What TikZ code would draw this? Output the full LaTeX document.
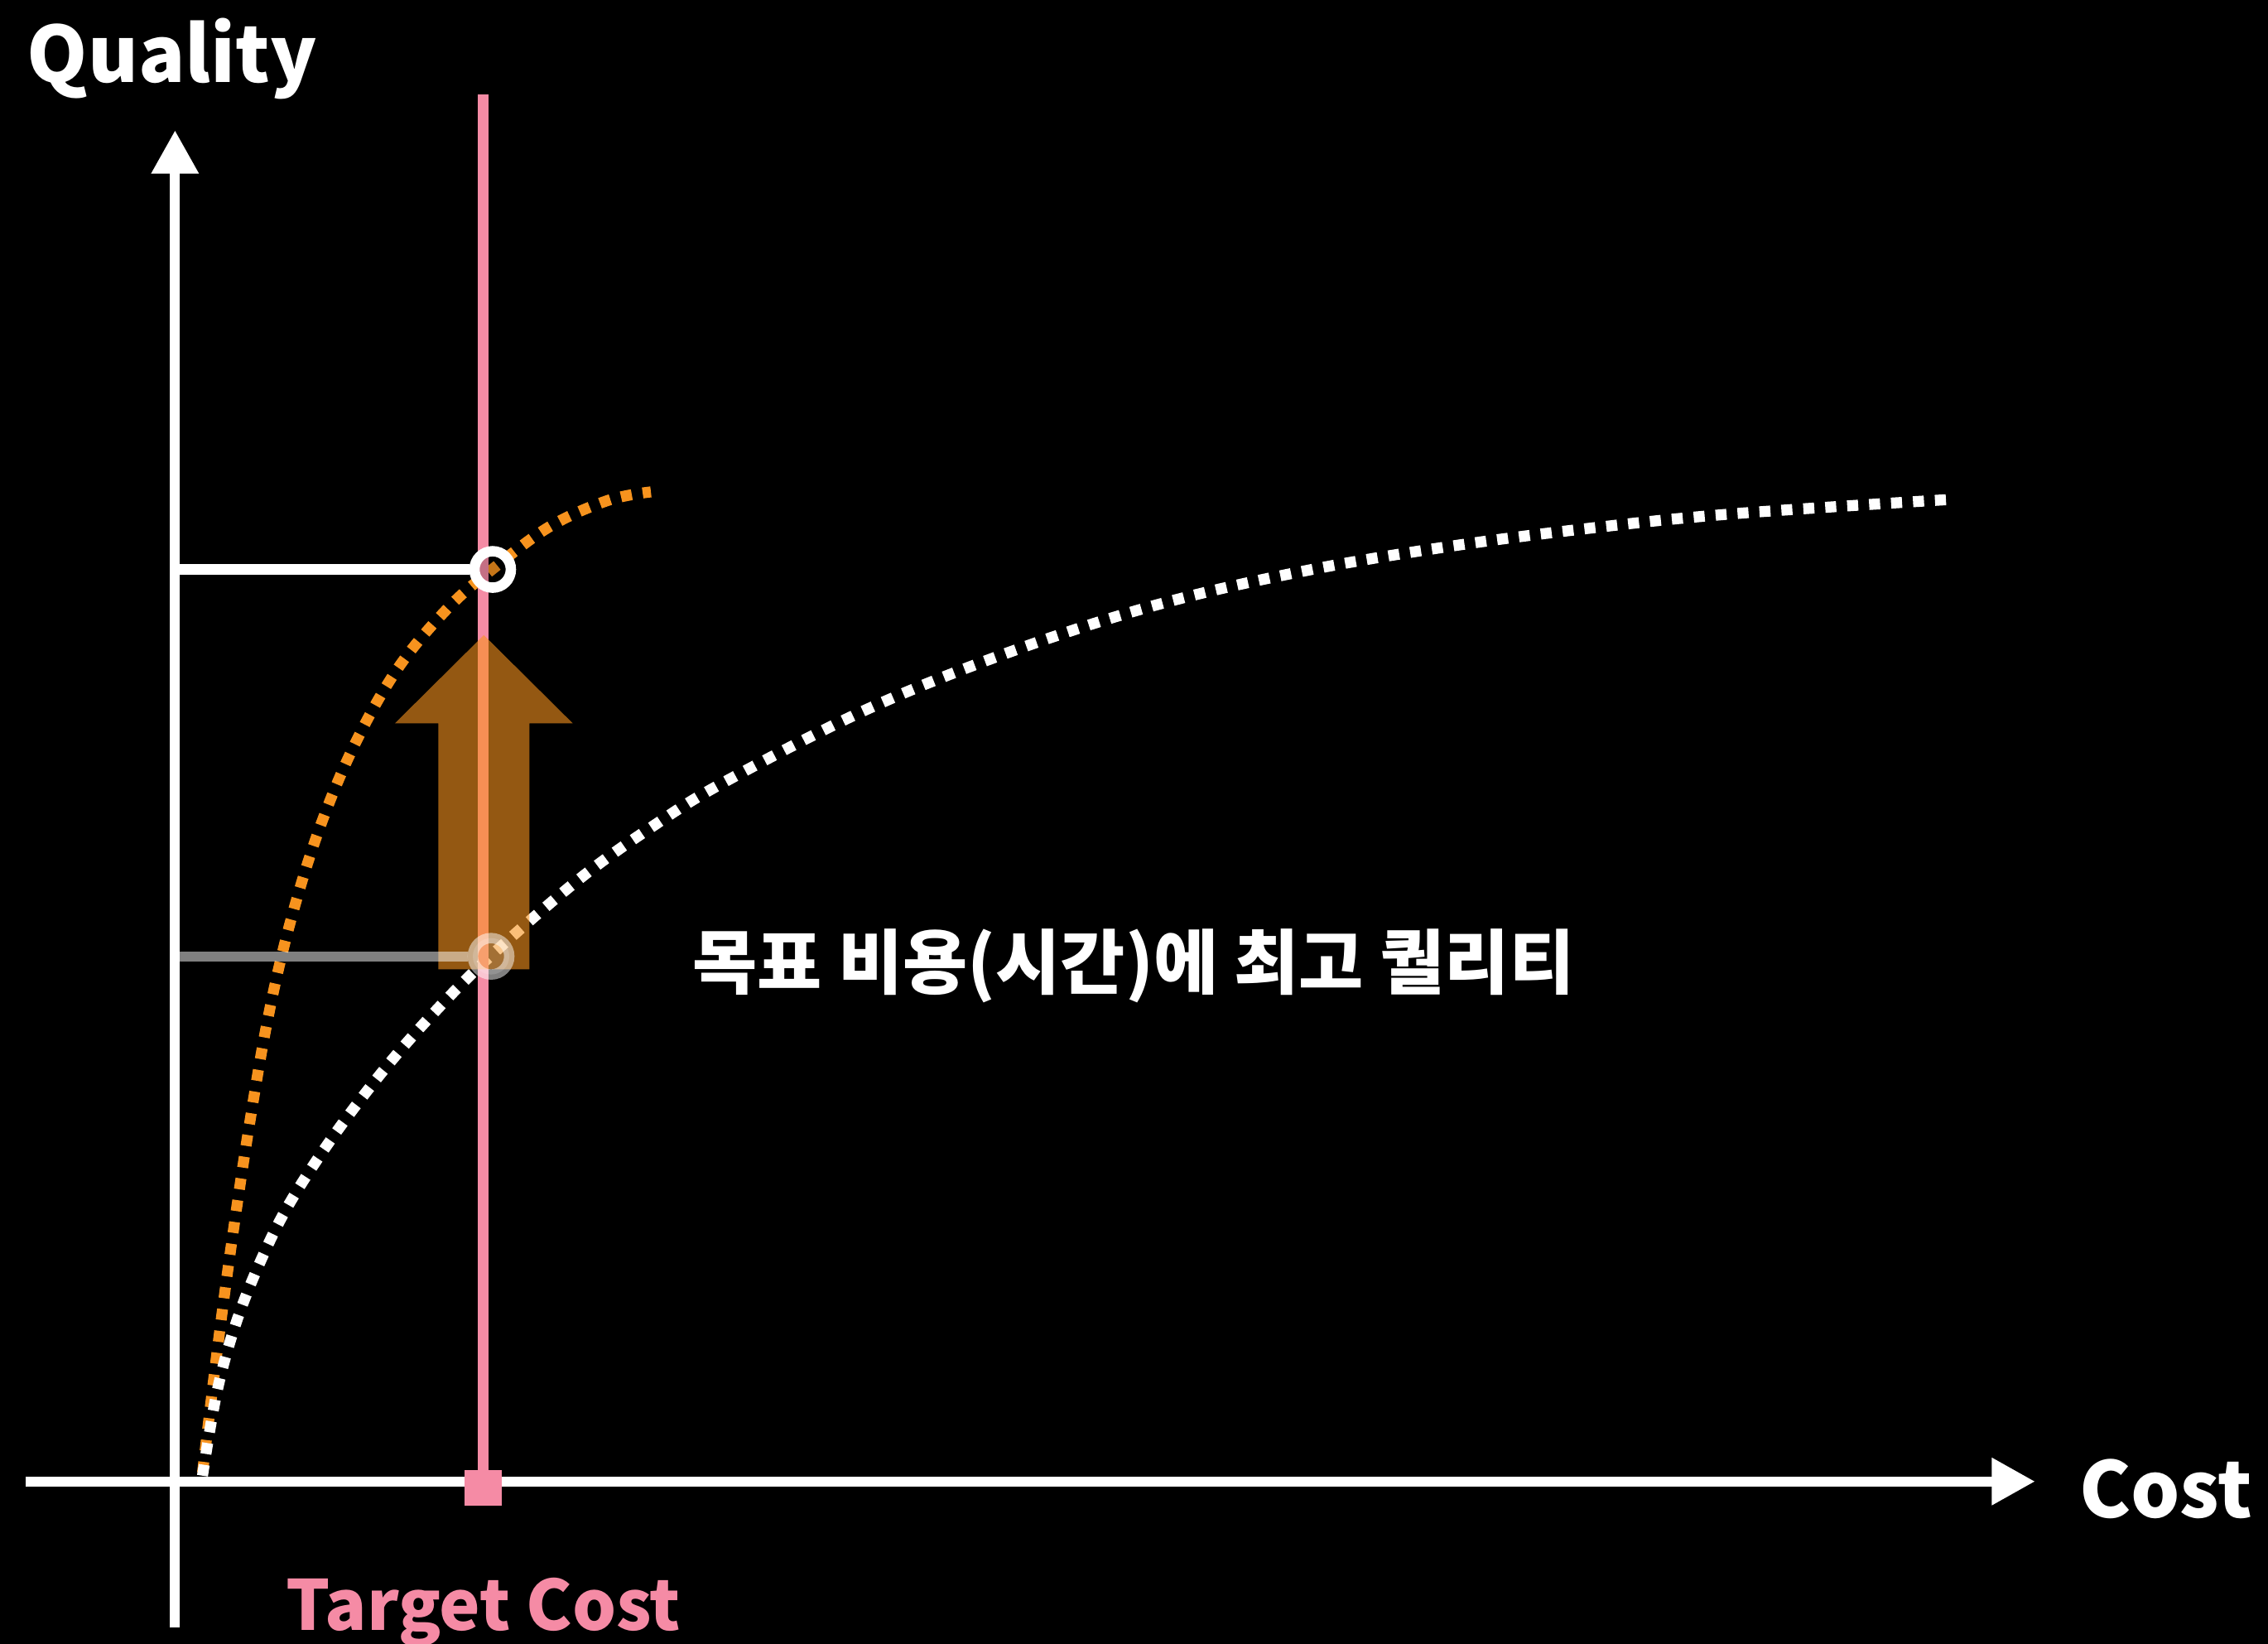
\documentclass[tikz,border=0pt]{standalone}
\usepackage{fontspec}
\setmainfont{Noto Sans CJK KR}
\usepackage{tikz}
\usetikzlibrary{arrows.meta,positioning,calc}
\definecolor{bgblack}{HTML}{000000}
\definecolor{tcpink}{HTML}{F58BA5}
\definecolor{qorange}{HTML}{F7931E}
\tikzset{
  axisline/.style={draw=white, line width=0.7mm, -{Triangle[length=3mm,width=3.1mm]}},
  dotcurve/.style={line width=0.76mm, dash pattern=on 0.76mm off 0.76mm},
  level/.style={line width=0.7mm},
  ring/.style={circle, draw=white, line width=0.72mm, minimum size=2.52mm,
               inner sep=0pt, fill=black, fill opacity=0.2, draw opacity=1},
  bigtxt/.style={font=\fontsize{15.2pt}{18pt}\selectfont\bfseries, text=white,
                 inner sep=0pt, anchor=base west},
}

\begin{document}
\begin{tikzpicture}[x=0.1mm, y=-0.1mm]
  % background, one px = one unit of the 1568 x 1136 frame
  \useasboundingbox (0,0) rectangle (1568,1136);
  \fill[bgblack] (-5,-5) rectangle (1573,1141);

  % axes
  \coordinate (ybot) at (121,1125);
  \coordinate (ytop) at (121,90);
  \coordinate (xleft) at (18,1024);
  \coordinate (xright) at (1407,1024);
  \draw[axisline] (ybot) -- (ytop);
  \draw[axisline] (xleft) -- (xright);

  % quality curves
  \draw[dotcurve, draw=qorange] plot[smooth, tension=0.6] coordinates {
    (140,1018) (150,935) (160,860) (172,780) (185,705) (200,640) (220,575)
    (245,515) (275,462) (310,420) (341,393) (380,364) (420,346) (450,340)};
  \draw[dotcurve, draw=white] plot[smooth, tension=0.6] coordinates {
    (140,1020) (150,962) (163,915) (180,872) (200,832) (230,786) (265,740)
    (300,700) (340,660) (400,608) (450,572) (500,541) (600,490) (700,450)
    (800,418) (900,395) (1000,378) (1100,365) (1200,355) (1352,345)};

  % target cost
  \coordinate (tctop) at (334,65);
  \node[fill=tcpink, minimum width=2.6mm, minimum height=2.5mm, inner sep=0pt]
    (tcmark) at (334,1028.5) {};
  \draw[tcpink, line width=0.76mm] (tctop) -- (tcmark.center);

  % lift arrow
  \fill[qorange, fill opacity=0.6] (303,670) -- (303,500) -- (273,500)
    -- (334.5,439) -- (396,500) -- (366,500) -- (366,670) -- cycle;

  % levels
  \node[ring] (qhigh) at (340.6,393.6) {};
  \node[ring, draw opacity=0.5, fill=white, fill opacity=0.15] (qlow) at (339.5,661) {};
  \coordinate (qhighax) at (121,393.6);
  \coordinate (qlowax) at (121,661);
  \draw[level, white] (qhighax) -- (qhigh.west);
  \draw[level, white, opacity=0.5] (qlowax) -- (qlow.west);

  % labels
  \node[bigtxt] (quality) at (18,57) {Quality};
  \node[bigtxt] (cost) at (1437,1049) {Cost};
  \node[bigtxt, text=tcpink, font=\fontsize{13.6pt}{16pt}\selectfont\bfseries]
    (tclabel) at (197,1127) {Target Cost};
  \node[bigtxt, font=\fontsize{13.85pt}{16pt}\selectfont\bfseries]
    (claim) at (478,683) {목표 비용(시간)에 최고 퀄리티};
\end{tikzpicture}
\end{document}
